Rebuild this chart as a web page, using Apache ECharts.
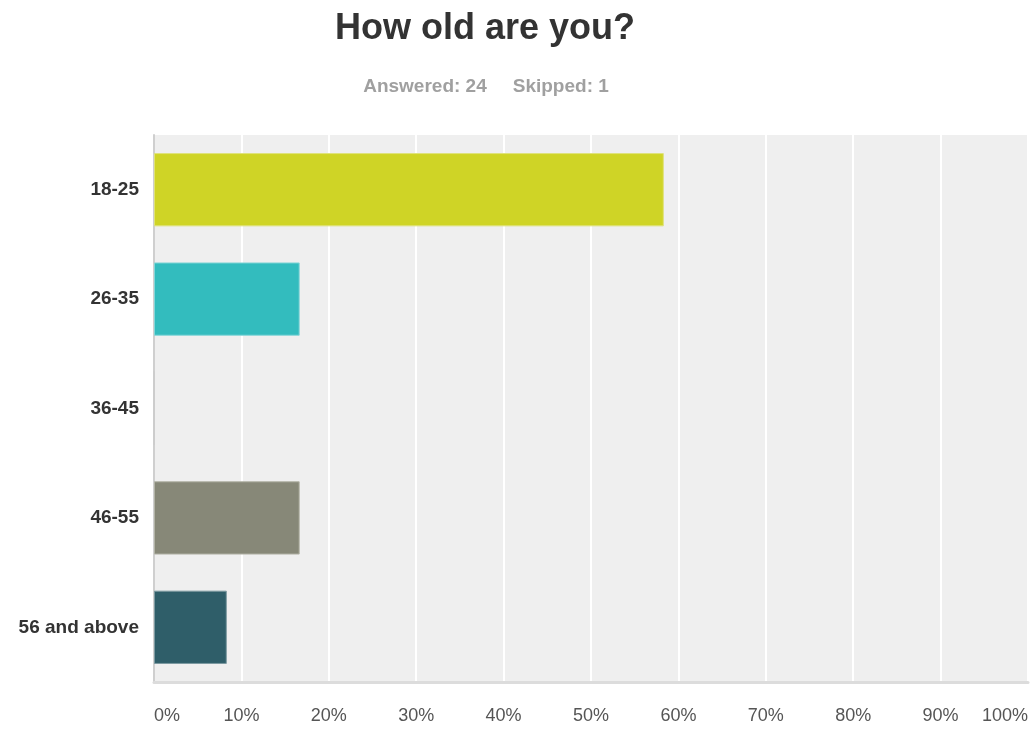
<!DOCTYPE html>
<html>
<head>
<meta charset="utf-8">
<title>How old are you?</title>
<script src="https://cdn.jsdelivr.net/npm/echarts@6/dist/echarts.min.js"></script>
<style>
  html, body { margin: 0; padding: 0; background: #ffffff; }
  #chart { width: 1034px; height: 730px; }
</style>
</head>
<body>
<div id="chart"></div>
<script>
// Age groups and share of respondents (%), 24 answered
const ageGroups = ['18-25', '26-35', '36-45', '46-55', '56 and above'];
const sharePercent = [58.33, 16.67, 0, 16.67, 8.33];
const barColors = ['#cfd426', '#33bcbe', '#a8a8a8', '#878878', '#2f5e69'];
const barBorders = ['#dfe27a', '#86d6d8', '#cccccc', '#b2b3a6', '#7d9aa1'];
const tickValues = [0, 10, 20, 30, 40, 50, 60, 70, 80, 90, 100];

const titleText = 'How old are you?';
const answeredText = 'Answered: 24';
const skippedText = 'Skipped: 1';

const FONT = '"Liberation Sans", Arial, Helvetica, sans-serif';

const chart = echarts.init(document.getElementById('chart'), null, { renderer: 'canvas' });

chart.setOption({
  animation: false,
  textStyle: { fontFamily: FONT },
  graphic: [
    {
      type: 'text',
      x: 485, y: 29,
      style: {
        text: titleText,
        font: 'bold 36px ' + FONT,
        fill: '#333333',
        align: 'center',
        verticalAlign: 'middle'
      }
    },
    {
      type: 'text',
      x: 486, y: 87,
      style: {
        text: '{a|' + answeredText + '}{b|' + skippedText + '}',
        align: 'center',
        verticalAlign: 'middle',
        rich: {
          a: { font: 'bold 19px ' + FONT, fill: '#a0a0a0', padding: [0, 26, 0, 0] },
          b: { font: 'bold 19px ' + FONT, fill: '#a0a0a0' }
        }
      }
    }
  ],
  grid: {
    left: 154, right: 6, top: 135, bottom: 48,
    show: true,
    backgroundColor: '#efefef',
    borderWidth: 0,
    containLabel: false
  },
  xAxis: {
    type: 'value',
    min: 0,
    max: 100,
    interval: 10,
    axisLine: { show: true, lineStyle: { color: '#dcdcdc', width: 3 } },
    axisTick: { show: false },
    splitLine: { show: true, lineStyle: { color: '#ffffff', width: 2 } },
    axisLabel: {
      margin: 25,
      fontSize: 18,
      color: '#555555',
      fontFamily: FONT,
      alignMinLabel: 'left',
      alignMaxLabel: 'right',
      customValues: tickValues,
      formatter: v => v + '%'
    }
  },
  yAxis: {
    type: 'category',
    data: ageGroups,
    inverse: true,
    axisLine: { show: true, lineStyle: { color: '#cfcfcf', width: 2 } },
    axisTick: { show: false },
    splitLine: { show: false },
    axisLabel: {
      margin: 15,
      fontSize: 19,
      fontWeight: 'bold',
      color: '#333333',
      fontFamily: FONT
    }
  },
  series: [
    {
      type: 'bar',
      barCategoryGap: '33%',
      data: sharePercent.map((v, i) => ({
        value: v,
        itemStyle: { color: barColors[i], borderColor: barBorders[i], borderWidth: 1 }
      })),
      label: { show: false }
    }
  ]
});
</script>
</body>
</html>
